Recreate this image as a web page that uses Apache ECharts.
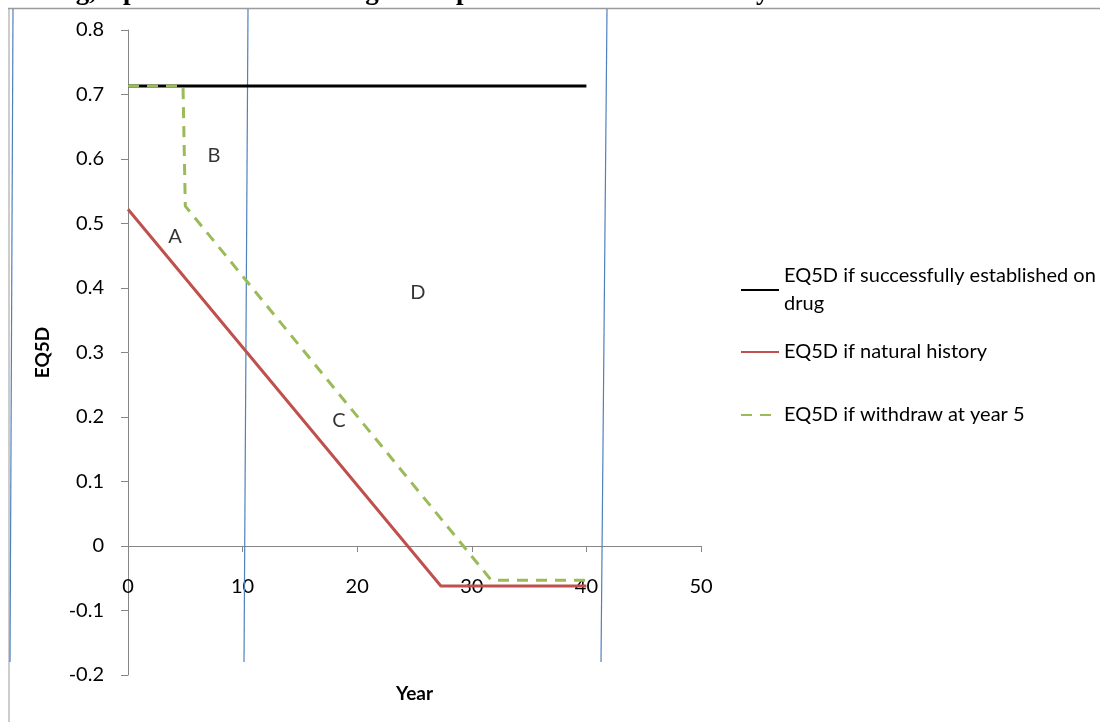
<!DOCTYPE html>
<html>
<head>
<meta charset="utf-8">
<script src="https://cdn.jsdelivr.net/npm/echarts@6/dist/echarts.min.js"></script>
<style>html,body{margin:0;padding:0;background:#fff}#c{width:1100px;height:722px}</style>
</head>
<body>
<div id="c"></div>
<script>
// ---- data ----
const seriesNames = ['EQ5D if successfully established on drug', 'EQ5D if natural history', 'EQ5D if withdraw at year 5'];
const drugX = [0, 40];
const drugY = [0.713, 0.713];
const naturalX = [0, 27.3, 40];
const naturalY = [0.522, -0.062, -0.062];
const withdrawX = [0, 4.8, 5.0, 31.7, 40];
const withdrawY = [0.713, 0.713, 0.527, -0.053, -0.053];
const annLabels = ['A', 'B', 'C', 'D'];
const annX = [4.1, 7.5, 18.4, 25.3];
const annY = [0.48, 0.606, 0.194, 0.393];
const xTicks = [0, 10, 20, 30, 40, 50];
const yTicks = [-0.2, -0.1, 0, 0.1, 0.2, 0.3, 0.4, 0.5, 0.6, 0.7, 0.8];
const titleText = 'ne drug, a patient who does drug and a patient who withdraws at year 5';

const zip = (xs, ys) => xs.map((x, i) => [x, ys[i]]);
const FONT = 'Lato';
const FS = 20;
const axisGray = '#868686';

const chart = echarts.init(document.getElementById('c'), null, {renderer: 'canvas'});
const legendBase = {
  orient: 'vertical', left: 740, padding: 0, itemWidth: 38, itemHeight: 14, itemGap: 0,
  itemStyle: {opacity: 0},
  textStyle: {fontFamily: FONT, fontSize: FS, color: '#000', lineHeight: 28},
  selectedMode: false
};
chart.setOption({
  backgroundColor: '#fff',
  animation: false,
  grid: {left: 128, right: 399, top: 30, bottom: 47, containLabel: false, outerBoundsMode: 'none'},
  xAxis: {
    type: 'value', min: xTicks[0], max: xTicks[xTicks.length - 1], interval: 10,
    name: 'Year', nameLocation: 'middle', nameGap: 9,
    nameTextStyle: {fontFamily: FONT, fontSize: 19, fontWeight: 'bold', color: '#000'},
    axisLine: {onZero: true, lineStyle: {color: axisGray, width: 1}},
    axisTick: {show: true, inside: false, length: 6, lineStyle: {color: axisGray}},
    axisLabel: {margin: -98, fontFamily: FONT, fontSize: FS, color: '#000'},
    splitLine: {show: false}
  },
  yAxis: {
    type: 'value', min: yTicks[0], max: yTicks[yTicks.length - 1], interval: 0.1,
    name: 'EQ5D', nameLocation: 'middle', nameGap: 76, nameRotate: 90,
    nameTextStyle: {fontFamily: FONT, fontSize: 19, fontWeight: 'bold', color: '#000'},
    axisLine: {show: true, lineStyle: {color: axisGray, width: 1}},
    axisTick: {show: true, length: 7, lineStyle: {color: axisGray}},
    axisLabel: {margin: 24, fontFamily: FONT, fontSize: FS, color: '#000',
      formatter: v => (Math.round(v * 10) / 10).toString()},
    splitLine: {show: false}
  },
  legend: [
    Object.assign({}, legendBase, {top: 248, data: [seriesNames[0]],
      formatter: () => 'EQ5D if successfully established on\ndrug',
      textStyle: Object.assign({}, legendBase.textStyle, {padding: [28, 0, 0, 0]})}),
    Object.assign({}, legendBase, {top: 338, data: [seriesNames[1]]}),
    Object.assign({}, legendBase, {top: 401, data: [seriesNames[2]]})
  ],
  graphic: [
    {type: 'text', left: 0, top: -21, z: 0, style: {text: titleText, font: 'bold 27px "Liberation Serif"', fill: '#000'}},
    {type: 'line', z: 1, shape: {x1: 8, y1: 8.5, x2: 1100, y2: 8.5}, style: {stroke: '#9a9a9a', lineWidth: 1.5}},
    {type: 'line', z: 1, shape: {x1: 9, y1: 8, x2: 9, y2: 722}, style: {stroke: '#9a9a9a', lineWidth: 1}},
    {type: 'line', z: 2, shape: {x1: 13, y1: 9, x2: 10, y2: 662}, style: {stroke: '#4F81BD', lineWidth: 1.2}},
    {type: 'line', z: 2, shape: {x1: 248, y1: 9, x2: 244, y2: 662}, style: {stroke: '#4F81BD', lineWidth: 1.2}},
    {type: 'line', z: 2, shape: {x1: 607, y1: 9, x2: 601, y2: 662}, style: {stroke: '#4F81BD', lineWidth: 1.2}}
  ],
  series: [
    {name: seriesNames[0], type: 'line', data: zip(drugX, drugY), symbol: 'none',
      lineStyle: {color: '#000000', width: 3}, itemStyle: {color: '#000000'}, z: 3},
    {name: seriesNames[1], type: 'line', data: zip(naturalX, naturalY), symbol: 'none',
      lineStyle: {color: '#C0504D', width: 3}, itemStyle: {color: '#C0504D'}, z: 4},
    {name: seriesNames[2], type: 'line', data: zip(withdrawX, withdrawY), symbol: 'none',
      lineStyle: {color: '#9BBB59', width: 3, type: [11, 8]}, itemStyle: {color: '#9BBB59'}, z: 5},
    {name: 'labels', type: 'scatter', silent: true, symbolSize: 0.01,
      data: annLabels.map((t, i) => ({name: t, value: [annX[i], annY[i]]})),
      itemStyle: {color: 'rgba(0,0,0,0)'},
      label: {show: true, position: 'inside', formatter: p => p.name, fontFamily: FONT, fontSize: FS, color: '#000'}, z: 6}
  ]
});
</script>
</body>
</html>
